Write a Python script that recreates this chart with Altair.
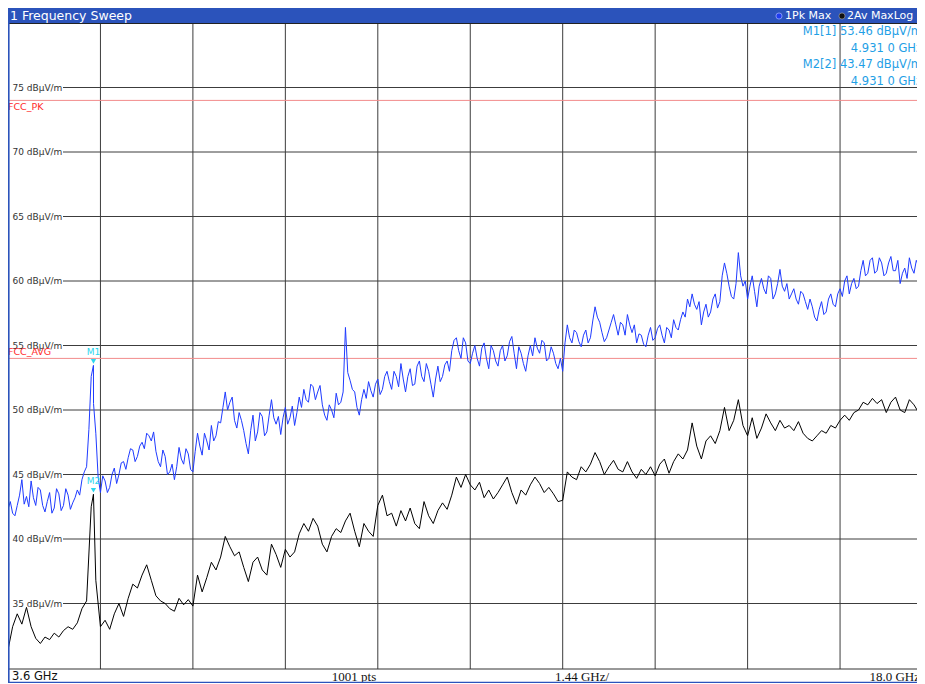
import altair as alt
import pandas as pd

# ---------------- data ----------------
F_START, F_STOP, N_PTS = 3.6, 18.0, 201
STEP = (F_STOP - F_START) / (N_PTS - 1)
FREQ = [round(F_START + i * STEP, 4) for i in range(N_PTS)]
FREQ_MID = [round(F_START + (i + 0.5) * STEP, 4) for i in range(N_PTS - 1)]

# 1Pk Max trace (dBuV/m) (sweep points)
PK = [42.3, 42.0, 42.6, 44.6, 43.3, 44.5, 42.6, 43.8, 42.1, 43.6,
      42.4, 43.5, 42.6, 43.4, 42.8, 43.8, 44.6, 45.6, 52.6, 48.2,
      43.6, 44.5, 44.0, 45.5, 45.0, 46.0, 46.3, 46.9, 46.4, 47.5,
      48.2, 47.6, 46.8, 45.6, 46.4, 45.2, 44.6, 47.1, 45.8, 46.6,
      45.2, 48.2, 46.5, 47.6, 48.8, 48.0, 49.0, 51.4, 50.6, 49.2,
      49.8, 48.4, 46.6, 49.6, 48.3, 49.5, 48.3, 50.8, 48.9, 48.1,
      50.2, 49.4, 48.8, 51.0, 51.6, 50.6, 51.8, 51.4, 50.4, 49.2,
      50.0, 51.3, 50.6, 56.4, 52.3, 51.4, 49.6, 51.6, 52.2, 51.0,
      52.4, 51.6, 53.0, 51.6, 52.6, 53.6, 51.4, 53.2, 52.0, 53.8,
      52.2, 53.0, 51.0, 53.4, 52.6, 53.8, 54.6, 55.6, 54.0, 55.2,
      53.6, 55.0, 53.4, 55.2, 53.2, 54.6, 53.4, 55.0, 54.2, 55.7,
      53.2, 54.4, 53.0, 55.0, 55.6, 54.4, 55.2, 54.0, 54.4, 53.2,
      53.0, 56.6, 55.2, 56.0, 54.9, 56.2, 55.6, 58.0, 56.8, 55.3,
      56.2, 57.4, 55.8, 56.6, 57.4, 56.0, 55.2, 55.8, 54.9, 56.4,
      55.6, 56.6, 55.2, 56.2, 57.0, 56.2, 57.6, 58.6, 59.0, 57.8,
      56.6, 58.2, 57.6, 59.0, 58.4, 61.4, 59.6, 58.6, 62.2, 59.6,
      58.6, 60.4, 58.0, 60.2, 59.0, 60.2, 59.0, 60.9, 59.2, 58.6,
      59.4, 58.2, 59.0, 57.8, 58.0, 56.9, 58.4, 57.6, 59.0, 58.0,
      59.4, 60.0, 59.0, 60.2, 59.6, 61.6, 60.6, 61.8, 60.8, 61.4,
      60.6, 61.9, 60.8, 59.8, 61.0, 61.8, 60.6, 61.2, 60.6, 61.0,
      60.8]

# 1Pk Max trace, the in-between sweep points (noise)
PK_MID = [42.9, 41.8, 43.4, 42.7, 42.5, 43.2, 44.0, 42.6, 42.9, 42.0,
          43.9, 42.2, 43.9, 42.3, 43.2, 43.4, 45.2, 48.5, 50.5, 44.8,
          44.9, 43.6, 45.0, 44.3, 45.9, 45.4, 47.0, 46.0, 47.2, 47.0,
          48.0, 48.3, 46.0, 46.9, 45.0, 45.8, 45.6, 46.2, 47.0, 45.4,
          46.8, 47.2, 48.2, 46.9, 47.6, 49.1, 50.2, 50.0, 51.0, 48.6,
          49.2, 47.4, 48.4, 47.6, 49.8, 48.0, 49.6, 49.4, 49.5, 49.4,
          48.9, 50.3, 49.8, 50.2, 50.8, 52.0, 50.8, 51.9, 49.6, 50.4,
          49.4, 50.4, 51.4, 52.9, 51.6, 50.2, 50.8, 50.9, 51.5, 52.0,
          51.2, 52.6, 52.2, 53.0, 51.8, 52.4, 52.6, 51.9, 53.4, 52.6,
          53.6, 52.0, 52.4, 52.2, 53.5, 53.0, 55.4, 54.6, 55.6, 53.8,
          54.4, 54.0, 54.8, 54.0, 55.0, 53.8, 54.6, 53.8, 55.3, 54.4,
          54.9, 53.6, 54.2, 54.2, 54.8, 55.4, 53.8, 54.9, 53.6, 54.0,
          55.2, 55.6, 56.2, 55.3, 55.8, 55.2, 56.9, 57.2, 56.0, 55.6,
          56.8, 56.6, 56.8, 55.8, 56.6, 56.6, 55.9, 55.1, 55.8, 55.4,
          56.3, 55.8, 56.4, 55.6, 56.4, 57.0, 57.2, 58.0, 58.2, 58.4,
          57.6, 57.2, 58.6, 57.9, 60.4, 60.6, 58.8, 59.8, 60.4, 60.0,
          59.6, 59.2, 59.6, 59.4, 60.4, 58.6, 59.8, 59.6, 59.8, 59.0,
          58.6, 59.2, 58.4, 58.6, 57.2, 57.8, 57.4, 58.6, 58.2, 59.0,
          58.8, 60.4, 59.8, 59.4, 60.8, 60.4, 61.6, 60.6, 61.8, 60.4,
          61.4, 60.8, 61.6, 60.6, 60.2, 61.0, 61.6, 60.2, 61.4, 60.5]

# 2Av MaxLog trace (dBuV/m)
AV = [31.4, 33.2, 34.2, 33.4, 34.7, 33.2, 32.3, 31.9, 32.4, 32.2,
      32.7, 32.4, 32.9, 33.2, 33.0, 33.5, 34.6, 35.2, 42.5, 36.8,
      33.2, 33.7, 33.0, 34.2, 35.0, 34.0, 35.4, 36.5, 36.2, 37.2,
      38.0, 36.8, 35.6, 35.2, 35.0, 34.6, 34.4, 35.4, 34.9, 35.3,
      34.8, 37.2, 35.9, 37.0, 38.2, 37.6, 38.6, 40.2, 39.4, 38.7,
      39.0, 37.8, 36.7, 38.2, 38.6, 37.6, 37.2, 39.6, 38.8, 37.8,
      39.2, 38.6, 39.0, 40.4, 41.2, 40.6, 41.6, 41.0, 39.6, 39.0,
      40.2, 40.8, 40.5, 41.4, 42.0, 40.6, 39.4, 41.2, 40.6, 40.2,
      42.6, 43.4, 41.8, 42.0, 41.0, 42.2, 41.4, 42.4, 41.2, 40.8,
      42.9, 41.8, 41.2, 42.2, 42.8, 42.3, 43.4, 44.8, 44.0, 45.0,
      44.2, 43.8, 44.4, 43.2, 43.8, 43.1, 43.6, 44.2, 44.8, 43.6,
      42.7, 43.8, 43.4, 44.2, 44.8, 44.3, 43.6, 44.0, 43.5, 42.9,
      43.0, 45.2, 44.8, 44.6, 45.6, 45.2, 45.8, 46.7, 46.0, 45.0,
      45.6, 46.1, 45.4, 45.2, 46.0, 45.2, 44.7, 45.4, 45.0, 45.6,
      44.9, 45.8, 46.2, 45.1, 46.0, 46.6, 46.2, 46.9, 49.0, 47.2,
      46.2, 47.6, 48.0, 47.4, 48.4, 50.2, 48.4, 49.2, 50.8, 48.8,
      48.0, 49.4, 47.8, 48.6, 49.7, 49.0, 48.4, 49.2, 48.6, 48.8,
      48.4, 49.1, 48.2, 47.8, 47.6, 48.0, 48.4, 48.2, 48.8, 48.6,
      49.2, 49.6, 49.2, 49.8, 50.0, 50.6, 50.4, 50.9, 50.5, 50.8,
      49.8, 50.6, 51.0, 50.0, 49.8, 50.8, 50.4, 49.8, 50.4, 50.6,
      50.2]

MARKER_FREQ = 4.931
MARKER_NAMES = ["M1", "M2"]
MARKER_LEVELS = [53.46, 43.47]

LIMIT_NAMES = ["FCC_PK", "FCC_AVG"]
LIMIT_LEVELS = [74, 54]

GRID_DB = [35, 40, 45, 50, 55, 60, 65, 70, 75]
GRID_F = [5.04, 6.48, 7.92, 9.36, 10.8, 12.24, 13.68, 15.12, 16.56]

# ---------------- layout ----------------
W, H = 909, 675
HDR = 15          # header bar height
PLOT_BOTTOM = 660
X_END = 924.5     # 10 divisions (right edge falls outside the visible window)

BLUE_BAR = "#2b53bb"
PK_COLOR = "#1f3bff"
AV_COLOR = "#000000"
GRID_COLOR = "#3c3c3c"
LIMIT_COLOR = "#f28b8b"
LIMIT_TEXT = "#ff2a2a"
MARK_COLOR = "#2bd6ee"
INFO_COLOR = "#1fa0e6"
FONT = "DejaVu Sans"

xs = alt.Scale(domain=[F_START, F_STOP], range=[0, X_END])
ys = alt.Scale(domain=[30, 80], range=[PLOT_BOTTOM, HDR])

pk_df = pd.DataFrame({"f": FREQ + FREQ_MID + [MARKER_FREQ],
                      "db": PK + PK_MID + [MARKER_LEVELS[0]]}).sort_values("f")
av_df = pd.DataFrame({"f": FREQ + [MARKER_FREQ], "db": AV + [MARKER_LEVELS[1]]}).sort_values("f")
mk_df = pd.DataFrame({"f": [MARKER_FREQ] * 2, "db": MARKER_LEVELS, "name": MARKER_NAMES})
lim_df = pd.DataFrame({"db": LIMIT_LEVELS, "name": LIMIT_NAMES})
gdb_df = pd.DataFrame({"db": GRID_DB, "label": [f"{v} dBµV/m" for v in GRID_DB]})
gf_df = pd.DataFrame({"f": GRID_F})
one = pd.DataFrame({"a": [0]})

X = lambda: alt.X("f:Q", scale=xs, axis=None)
Y = lambda: alt.Y("db:Q", scale=ys, axis=None)

layers = []

# header bar
layers.append(alt.Chart(one).mark_rect(color=BLUE_BAR).encode(
    x=alt.value(0), x2=alt.value(W), y=alt.value(0), y2=alt.value(HDR)))
layers.append(alt.Chart(one).mark_text(text="1 Frequency Sweep", align="left", baseline="middle",
    font=FONT, fontSize=12.5, color="white").encode(x=alt.value(2), y=alt.value(8)))
layers.append(alt.Chart(one).mark_circle(size=38, color="#1f3cf0", opacity=1,
    stroke="#aab8ff", strokeWidth=0.7).encode(x=alt.value(771), y=alt.value(8)))
layers.append(alt.Chart(one).mark_text(text="1Pk Max", align="left", baseline="middle",
    font=FONT, fontSize=11, color="white").encode(x=alt.value(777), y=alt.value(8)))
layers.append(alt.Chart(one).mark_circle(size=38, color="#111111", opacity=1,
    stroke="#a0a0a0", strokeWidth=0.7).encode(x=alt.value(834), y=alt.value(8)))
layers.append(alt.Chart(one).mark_text(text="2Av MaxLog", align="left", baseline="middle",
    font=FONT, fontSize=11, color="white").encode(x=alt.value(839), y=alt.value(8)))

# grid
layers.append(alt.Chart(gf_df).mark_rule(color=GRID_COLOR, strokeWidth=1).encode(
    x=X(), y=alt.value(HDR), y2=alt.value(PLOT_BOTTOM + 1)))
layers.append(alt.Chart(gdb_df).mark_rule(color=GRID_COLOR, strokeWidth=1).encode(
    y=Y(), x=alt.value(55), x2=alt.value(W)))
layers.append(alt.Chart(gdb_df).mark_text(align="left", baseline="middle", font=FONT,
    fontSize=9, color="#333333").encode(y=Y(), x=alt.value(4.5), text="label:N"))

# frame lines
layers.append(alt.Chart(one).mark_rule(color="#222222", strokeWidth=1).encode(
    x=alt.value(0), x2=alt.value(W), y=alt.value(HDR + 0.5)))
layers.append(alt.Chart(one).mark_rule(color="#333333", strokeWidth=1).encode(
    x=alt.value(0), x2=alt.value(W), y=alt.value(PLOT_BOTTOM + 1)))

# limit lines
layers.append(alt.Chart(lim_df).mark_rule(color=LIMIT_COLOR, strokeWidth=1).encode(
    y=Y(), x=alt.value(0), x2=alt.value(W)))
layers.append(alt.Chart(lim_df[lim_df.name == "FCC_PK"]).mark_text(align="left", baseline="top",
    font=FONT, fontSize=9.5, color=LIMIT_TEXT, dy=2).encode(y=Y(), x=alt.value(0), text="name:N"))
layers.append(alt.Chart(lim_df[lim_df.name == "FCC_AVG"]).mark_text(align="left", baseline="bottom",
    font=FONT, fontSize=9.5, color=LIMIT_TEXT, dy=-1).encode(y=Y(), x=alt.value(0), text="name:N"))

# traces
layers.append(alt.Chart(av_df).mark_line(color=AV_COLOR, strokeWidth=1, interpolate="linear").encode(
    x=X(), y=Y()))
layers.append(alt.Chart(pk_df).mark_line(color=PK_COLOR, strokeWidth=1, interpolate="linear").encode(
    x=X(), y=Y()))

# markers
layers.append(alt.Chart(mk_df).mark_point(shape="triangle-down", filled=True, size=28,
    color=MARK_COLOR, opacity=1, yOffset=-4).encode(x=X(), y=Y()))
layers.append(alt.Chart(mk_df).mark_text(font=FONT, fontSize=9, color=MARK_COLOR,
    baseline="middle", dy=-13).encode(x=X(), y=Y(), text="name:N"))

# marker info (the right end falls just outside the window, like the reference)
freq_txt = f"{MARKER_FREQ:.3f} 0 GHz"
info = [f"M1[1] {MARKER_LEVELS[0]:.2f} dBµV/m", freq_txt,
        f"M2[2] {MARKER_LEVELS[1]:.2f} dBµV/m", freq_txt]
for k, t in enumerate(info):
    layers.append(alt.Chart(one).mark_text(text=t, align="right", baseline="middle", font=FONT,
        fontSize=11.5, color=INFO_COLOR).encode(x=alt.value(914), y=alt.value(24 + k * 16.7)))

# bottom bar
layers.append(alt.Chart(one).mark_text(text=f"{F_START} GHz", align="left", baseline="middle",
    font=FONT, fontSize=11.5, color="#111111").encode(x=alt.value(4), y=alt.value(669)))
layers.append(alt.Chart(one).mark_text(text="1001 pts", align="center", baseline="middle",
    font="Liberation Serif", fontSize=13, color="#111111").encode(x=alt.value(346), y=alt.value(669)))
layers.append(alt.Chart(one).mark_text(text="1.44 GHz/", align="center", baseline="middle",
    font="Liberation Serif", fontSize=13, color="#111111").encode(x=alt.value(574), y=alt.value(669)))
layers.append(alt.Chart(one).mark_text(text=f"{F_STOP} GHz", align="right", baseline="middle",
    font="Liberation Serif", fontSize=13, color="#111111").encode(x=alt.value(912), y=alt.value(669)))

# blue frame (left and bottom)
layers.append(alt.Chart(one).mark_rule(color=BLUE_BAR, strokeWidth=1.6).encode(
    x=alt.value(0.8), y=alt.value(0), y2=alt.value(H)))
layers.append(alt.Chart(one).mark_rule(color=BLUE_BAR, strokeWidth=1.2).encode(
    x=alt.value(0), x2=alt.value(W), y=alt.value(H - 0.6)))

chart = alt.layer(*layers).properties(
    width=W, height=H, padding=0,
    autosize=alt.AutoSizeParams(type="none"),
    background="white",
).configure_view(stroke=None)

chart.save("out.html", embed_options={"renderer": "svg", "actions": False})
